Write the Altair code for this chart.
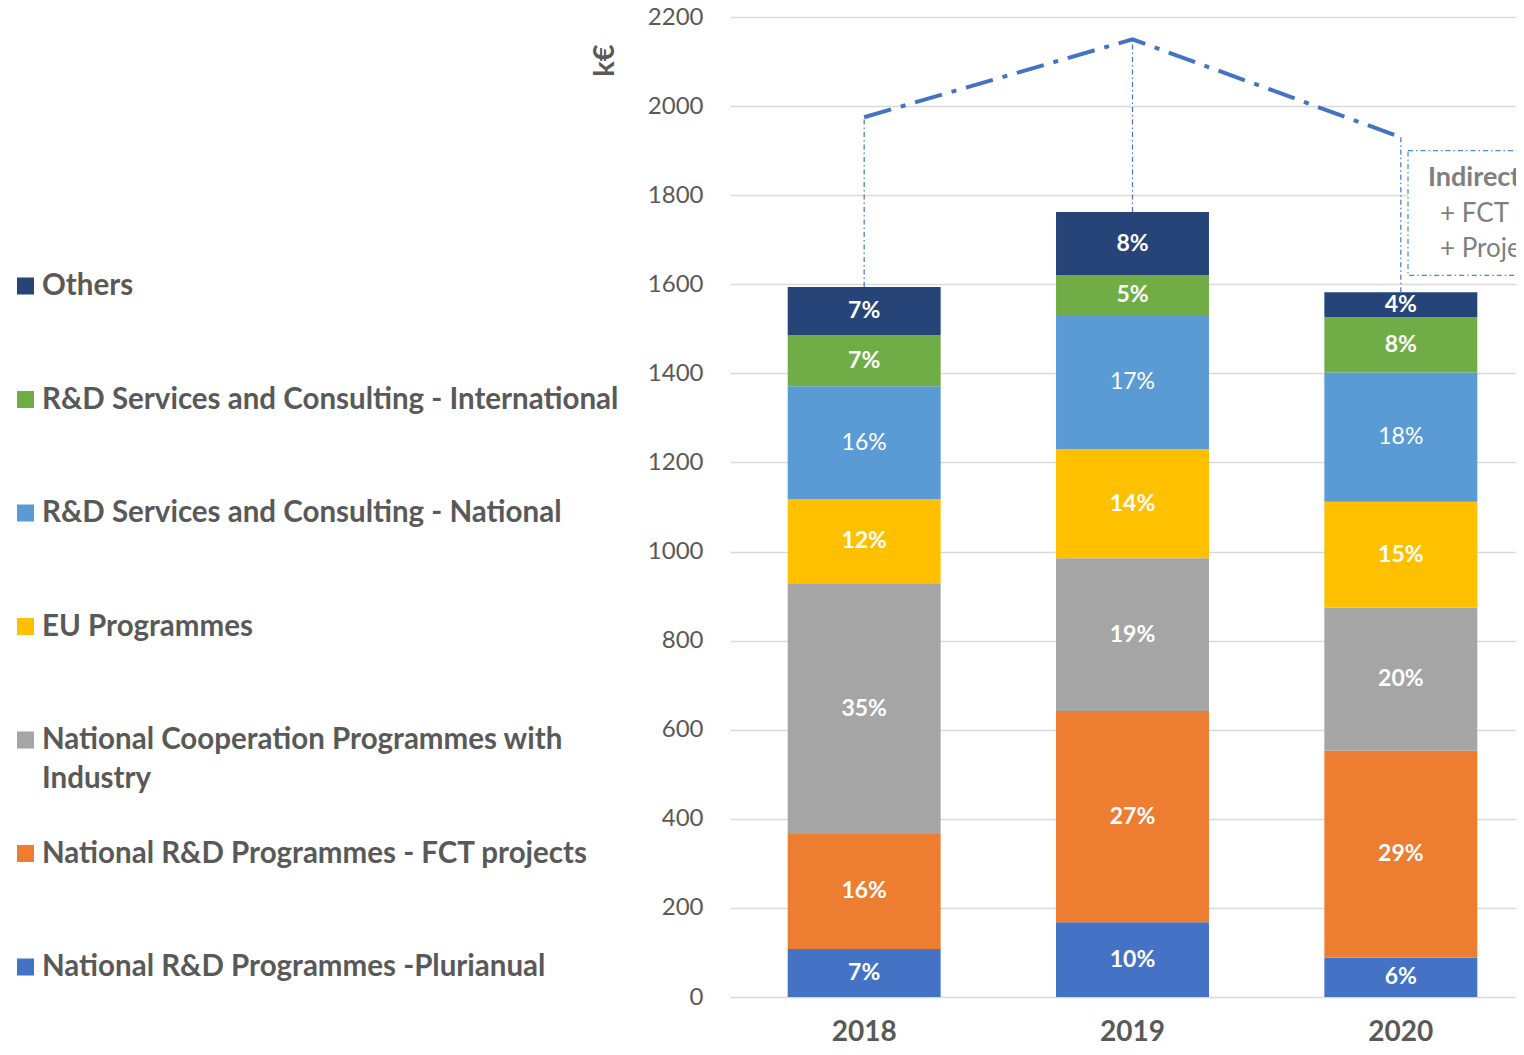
import altair as alt
import pandas as pd

years = ["2018", "2019", "2020"]
categories = [
    "National R&D Programmes -Plurianual",
    "National R&D Programmes - FCT projects",
    "National Cooperation Programmes with Industry",
    "EU Programmes",
    "R&D Services and Consulting - National",
    "R&D Services and Consulting - International",
    "Others",
]
colors = ["#4472C4", "#ED7D31", "#A5A5A5", "#FFC000", "#5B9BD5", "#70AD47", "#264478"]
values_2018 = [108, 258, 563, 189, 253, 115, 108]
values_2019 = [168, 474, 343, 245, 301, 90, 141]
values_2020 = [88, 465, 321, 238, 290, 124, 56]
light_label_category = "R&D Services and Consulting - National"
indirect_totals = [1975, 2150, 1930]

legend_order = list(reversed(categories))
legend_line1 = [
    "Others",
    "R&D Services and Consulting - International",
    "R&D Services and Consulting - National",
    "EU Programmes",
    "National Cooperation Programmes with",
    "National R&D Programmes - FCT projects",
    "National R&D Programmes -Plurianual",
]
legend_line2 = ["", "", "", "", "Industry", "", ""]

box_title = "Indirect costs"
box_lines = ["+ FCT strategic funding", "+ Projects overheads"]
box_range = [1620, 1900]
box_title_value = 1838
box_line_values = [1757, 1679]

FONT = "Lato"
TXT = "#595959"

# ---- tables built from the arrays ----
rows = []
for year, vals in zip(years, [values_2018, values_2019, values_2020]):
    total = sum(vals)
    start = 0
    for i, (cat, v) in enumerate(zip(categories, vals)):
        rows.append({
            "year": year, "cat": cat, "order": i, "value": v,
            "start": start, "end": start + v, "mid": start + v / 2,
            "label": f"{round(v / total * 100)}%",
            "light": cat == light_label_category,
        })
        start += v
df = pd.DataFrame(rows)

df_tot = pd.DataFrame({
    "year": years,
    "total": [sum(v) for v in [values_2018, values_2019, values_2020]],
    "indirect": indirect_totals,
})

df_leg = pd.DataFrame({"cat": legend_order, "line1": legend_line1, "line2": legend_line2})
df_box = pd.DataFrame({"lo": [box_range[0]], "hi": [box_range[1]]})
df_box_title = pd.DataFrame({"t": [box_title], "v": [box_title_value]})
df_box_lines = pd.DataFrame({"t": box_lines, "v": box_line_values})

xscale = alt.Scale(domain=years, range=[0, 805], paddingInner=0.43, paddingOuter=0.215)
yscale = alt.Scale(domain=[0, 2200], nice=False)
cscale = alt.Scale(domain=categories, range=colors)

xaxis = alt.Axis(title=None, labelFont=FONT, labelFontSize=28, labelFontWeight="bold",
                 labelColor=TXT, ticks=False, domain=False, labelPadding=21, grid=False,
                 labelAngle=0)
yaxis = alt.Axis(title="k€", values=list(range(0, 2201, 200)), format="d", labelFont=FONT,
                 labelFontSize=24, labelColor=TXT, ticks=False, domain=False,
                 labelPadding=27, grid=True, gridColor="#D9D9D9", gridWidth=1.5,
                 titleFont=FONT, titleFontSize=29, titleFontWeight="bold", titleColor=TXT,
                 titleAngle=270, titleX=-126, titleY=43, titleAlign="center",
                 titleBaseline="middle")

X = alt.X("year:N", scale=xscale, axis=xaxis)

bars = alt.Chart(df).mark_bar().encode(
    x=X,
    y=alt.Y("start:Q", scale=yscale, axis=yaxis),
    y2="end:Q",
    color=alt.Color("cat:N", scale=cscale, legend=None),
)

lab_bold = alt.Chart(df).transform_filter("!datum.light").mark_text(
    font=FONT, fontSize=23, fontWeight="bold", color="white", baseline="middle"
).encode(x=X, y=alt.Y("mid:Q", scale=yscale), text="label:N")

lab_light = alt.Chart(df).transform_filter("datum.light").mark_text(
    font=FONT, fontSize=23, fontWeight="normal", color="white", baseline="middle"
).encode(x=X, y=alt.Y("mid:Q", scale=yscale), text="label:N")

rules = alt.Chart(df_tot).mark_rule(
    color="#4472C4", strokeWidth=1.2, strokeDash=[5, 3, 1.5, 3]
).encode(x=X, y=alt.Y("total:Q", scale=yscale), y2="indirect:Q")

line = alt.Chart(df_tot).mark_line(
    color="#4472C4", strokeWidth=4, strokeDash=[28, 10, 5, 10], strokeCap="butt"
).encode(x=X, y=alt.Y("indirect:Q", scale=yscale))

box = alt.Chart(df_box).mark_rect(
    clip=True, fill="white", stroke="#3C8DE0", strokeWidth=1.2, strokeDash=[5, 3, 1.5, 3]
).encode(x=alt.value(678), x2=alt.value(900), y=alt.Y("lo:Q", scale=yscale), y2="hi:Q")

box_t = alt.Chart(df_box_title).mark_text(
    clip=True, font=FONT, fontSize=27, fontWeight="bold", color="#7F7F7F",
    align="left", baseline="middle"
).encode(x=alt.value(698), y=alt.Y("v:Q", scale=yscale), text="t:N")

box_l = alt.Chart(df_box_lines).mark_text(
    clip=True, font=FONT, fontSize=26, color="#7F7F7F", align="left", baseline="middle"
).encode(x=alt.value(710), y=alt.Y("v:Q", scale=yscale), text="t:N")

main = alt.layer(bars, lab_bold, lab_light, rules, line, box, box_t, box_l)

LY = alt.Y("cat:N", scale=alt.Scale(type="point", domain=legend_order, range=[269, 950], padding=0), axis=None)

leg_sq = alt.Chart(df_leg).mark_square(size=289, opacity=1).encode(
    x=alt.value(-704.5), y=LY, color=alt.Color("cat:N", scale=cscale, legend=None)
)
leg_t1 = alt.Chart(df_leg).mark_text(
    font=FONT, fontSize=29.5, fontWeight="bold", color=TXT, align="left", baseline="middle"
).encode(x=alt.value(-688), y=LY, text="line1:N")
leg_t2 = alt.Chart(df_leg).transform_filter("datum.line2 != ''").mark_text(
    font=FONT, fontSize=29.5, fontWeight="bold", color=TXT, align="left", baseline="middle", dy=39
).encode(x=alt.value(-688), y=LY, text="line2:N")

legend = alt.layer(leg_sq, leg_t1, leg_t2)

chart = alt.layer(main, legend).resolve_scale(y="independent").properties(
    width=786, height=980,
    autosize=alt.AutoSizeParams(type="none"),
    padding={"left": 722, "top": 9, "right": 0, "bottom": 50},
).configure_view(stroke=None)

chart.save("out.html", embed_options={"renderer": "svg", "actions": False})
